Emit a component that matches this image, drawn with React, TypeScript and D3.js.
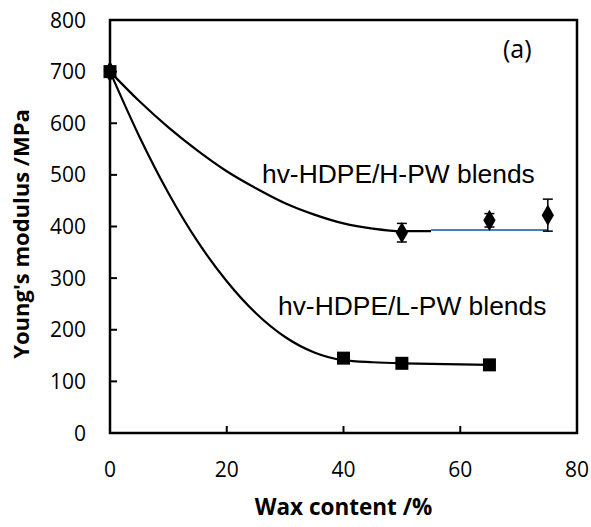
import React from "react";
import * as d3 from "d3";

// Measured points: H-PW blends (diamonds, with error bars) and L-PW blends (squares)
const hWax = [0, 50, 65, 75];
const hModulus = [700, 388, 412, 422];
const hError = [0, 18, 13, 31];

const lWax = [0, 40, 50, 65];
const lModulus = [700, 145, 135, 132];

// Guide curves drawn through the data
const hCurveWax = [0, 5, 10, 15, 20, 25, 30, 35, 40, 45, 50, 55];
const hCurveModulus = [700, 643, 592, 547, 507, 474, 445, 423, 406, 396, 391, 391];
const hPlateauWax = [55, 75];
const hPlateauModulus = [393, 393];

const lCurveWax = [0, 5, 10, 15, 20, 25, 30, 35, 40, 45, 50, 55, 60, 65];
const lCurveModulus = [700, 575, 465, 371, 294, 232, 186, 156, 141, 137, 135, 134, 133, 132];

const xTicks = [0, 20, 40, 60, 80];
const yTicks = [0, 100, 200, 300, 400, 500, 600, 700, 800];

const W = 591;
const H = 527;
const left = 110;
const right = 577;
const top = 20;
const bottom = 433;

const tickFont = "'Open Sans', 'DejaVu Sans', sans-serif";
const labelFont = "'Liberation Sans', Arial, sans-serif";

export default function App() {
  const x = d3.scaleLinear().domain([0, 80]).range([left, right]);
  const y = d3.scaleLinear().domain([0, 800]).range([bottom, top]);

  const line = (xs: number[], ys: number[]) =>
    d3
      .line<number>()
      .x((_, i) => x(xs[i]))
      .y((d) => y(d))
      .curve(d3.curveMonotoneX)(ys) || "";

  const diamond = d3.symbol().type(d3.symbolDiamond).size(130)() || "";

  return (
    <div style={{ position: "absolute", left: 0, top: 0 }}>
      <svg width={W} height={H} style={{ display: "block", background: "#fff" }}>
        {/* curves */}
        <path d={line(hCurveWax, hCurveModulus)} fill="none" stroke="#000" strokeWidth={2.2} />
        <path d={line(hPlateauWax, hPlateauModulus)} fill="none" stroke="#4a7ebb" strokeWidth={2} />
        <path d={line(lCurveWax, lCurveModulus)} fill="none" stroke="#000" strokeWidth={2.2} />

        {/* error bars */}
        {hWax.map((w, i) =>
          hError[i] > 0 ? (
            <g key={"e" + i} stroke="#000" strokeWidth={1.5}>
              <line x1={x(w)} x2={x(w)} y1={y(hModulus[i] - hError[i])} y2={y(hModulus[i] + hError[i])} />
              <line x1={x(w) - 5} x2={x(w) + 5} y1={y(hModulus[i] - hError[i])} y2={y(hModulus[i] - hError[i])} />
              <line x1={x(w) - 5} x2={x(w) + 5} y1={y(hModulus[i] + hError[i])} y2={y(hModulus[i] + hError[i])} />
            </g>
          ) : null
        )}

        {/* markers */}
        {hWax.map((w, i) => (
          <path key={"d" + i} d={diamond} transform={`translate(${x(w)},${y(hModulus[i])})`} fill="#000" />
        ))}
        {lWax.map((w, i) => (
          <rect key={"s" + i} x={x(w) - 6.5} y={y(lModulus[i]) - 6.5} width={13} height={13} fill="#000" />
        ))}

        {/* frame */}
        <rect x={left} y={top} width={right - left} height={bottom - top} fill="none" stroke="#000" strokeWidth={2.5} />

        {/* ticks (inside) */}
        {xTicks.map((t) => (
          <line key={"xt" + t} x1={x(t)} x2={x(t)} y1={bottom} y2={bottom - 7} stroke="#000" strokeWidth={2} />
        ))}
        {yTicks.map((t) => (
          <line key={"yt" + t} x1={left} x2={left + 7} y1={y(t)} y2={y(t)} stroke="#000" strokeWidth={2} />
        ))}

        {/* tick labels */}
        {xTicks.map((t) => (
          <text key={"xl" + t} x={x(t)} y={477} textAnchor="middle" fontFamily={tickFont} fontSize={21} fill="#000">
            {t}
          </text>
        ))}
        {yTicks.map((t) => (
          <text key={"yl" + t} x={86} y={y(t) + 7.5} textAnchor="end" fontFamily={tickFont} fontSize={21} fill="#000">
            {t}
          </text>
        ))}

        {/* axis titles */}
        <text x={(left + right) / 2} y={515} textAnchor="middle" fontFamily={tickFont} fontWeight="bold" fontSize={22.5} fill="#000">
          Wax content /%
        </text>
        <text
          transform={`translate(29,234) rotate(-90)`}
          textAnchor="middle"
          fontFamily={tickFont}
          fontWeight="bold"
          fontSize={22}
          fill="#000"
        >
          Young's modulus /MPa
        </text>

        {/* annotations */}
        <text x={262} y={183} fontFamily={labelFont} fontSize={26.4} fill="#000">
          hv-HDPE/H-PW blends
        </text>
        <text x={278} y={315} fontFamily={labelFont} fontSize={26.4} fill="#000">
          hv-HDPE/L-PW blends
        </text>
        <text x={503} y={58} fontFamily={tickFont} fontSize={25} fill="#000">
          (a)
        </text>
      </svg>
    </div>
  );
}
